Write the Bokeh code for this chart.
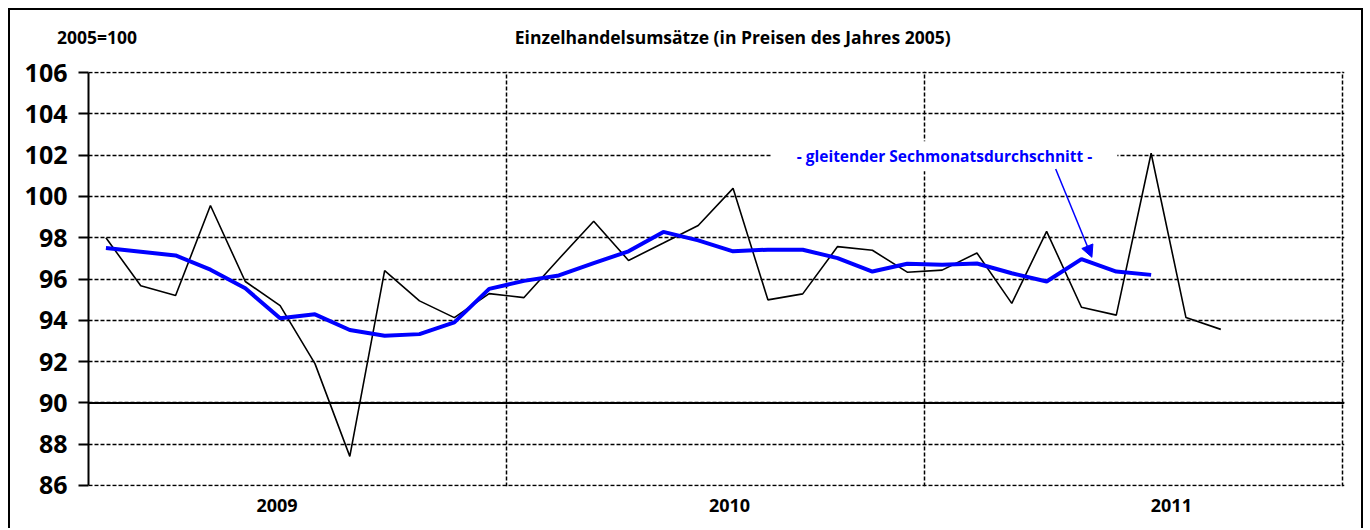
from bokeh.plotting import figure
from bokeh.models import Range1d, FixedTicker, Span, Label, Arrow, NormalHead, LinearAxis
from bokeh.embed import file_html
from bokeh.resources import INLINE

# ---- data (monthly, Jan 2009 = index 0) ----
umsatz = [98.0, 95.67, 95.2, 99.56, 95.88, 94.71, 91.9, 87.41, 96.41, 94.94, 94.13, 95.29,
          95.1, 96.97, 98.8, 96.9, 97.74, 98.59, 100.39, 94.99, 95.28, 97.57, 97.39, 96.33,
          96.43, 97.26, 94.82, 98.31, 94.63, 94.25, 102.09, 94.13, 93.56]
gleitend = [97.5, 97.32, 97.14, 96.45, 95.55, 94.1, 94.29, 93.53, 93.25, 93.33, 93.9, 95.52,
            95.91, 96.17, 96.77, 97.34, 98.28, 97.87, 97.34, 97.42, 97.42, 97.01, 96.36, 96.74,
            96.69, 96.75, 96.28, 95.88, 96.96, 96.36, 96.2]
year_labels = ["2009", "2010", "2011"]
year_label_pos = [5.41, 18.4, 31.08]
year_bounds = [12, 24, 36]
y_ticks = list(range(86, 107, 2))

title_text = "Einzelhandelsumsätze (in Preisen des Jahres 2005)"
unit_text = "2005=100"
header_texts = [unit_text, title_text]
header_pos = [0.245, 18.49]
note_text = "- gleitender Sechmonatsdurchschnitt -"

FONT = "Open Sans"

x_u = [i + 0.5 for i in range(len(umsatz))]
x_g = [i + 0.5 for i in range(len(gleitend))]

p = figure(width=1355, height=520, x_range=Range1d(0, 36.05), y_range=Range1d(85.95, 106.05),
           output_backend="svg", toolbar_location=None,
           min_border_left=78, min_border_right=21, min_border_top=61, min_border_bottom=44)
p.styles = {"border-left": "2px solid black", "border-top": "2px solid black",
            "border-right": "2px solid black", "box-sizing": "border-box",
            "margin-left": "8px", "margin-top": "8px"}
p.outline_line_color = None
p.background_fill_color = "white"
p.border_fill_color = "white"

# y axis
p.yaxis.ticker = FixedTicker(ticks=y_ticks)
p.yaxis.bounds = (86, 106)
p.yaxis.axis_line_width = 2
p.yaxis.axis_line_color = "black"
p.yaxis.major_tick_out = 10
p.yaxis.major_tick_in = 0
p.yaxis.major_tick_line_width = 2
p.yaxis.minor_tick_line_color = None
p.yaxis.major_label_standoff = 11
p.yaxis.major_label_text_font = FONT
p.yaxis.major_label_text_font_size = "25px"
p.yaxis.major_label_text_font_style = "bold"
p.yaxis.major_label_text_color = "black"

# x axis (years)
p.xaxis.ticker = FixedTicker(ticks=year_label_pos)
p.xaxis.major_label_overrides = {pos: lab for pos, lab in zip(year_label_pos, year_labels)}
p.xaxis.axis_line_color = None
p.xaxis.major_tick_line_color = None
p.xaxis.minor_tick_line_color = None
p.xaxis.major_label_standoff = 6
p.xaxis.major_label_text_font = FONT
p.xaxis.major_label_text_font_size = "18px"
p.xaxis.major_label_text_font_style = "bold"
p.xaxis.major_label_text_color = "black"

# header row (unit + title) as labels of a top axis
top = LinearAxis(ticker=FixedTicker(ticks=header_pos),
                 major_label_overrides={pos: t for pos, t in zip(header_pos, header_texts)},
                 axis_line_color=None, major_tick_line_color=None, minor_tick_line_color=None,
                 major_label_standoff=17, major_label_text_font=FONT,
                 major_label_text_font_size="17.5px", major_label_text_font_style="bold",
                 major_label_text_color="black")
p.add_layout(top, "above")

# grids
p.ygrid.ticker = FixedTicker(ticks=y_ticks)
p.ygrid.grid_line_color = "black"
p.ygrid.grid_line_dash = "4 2"
p.ygrid.grid_line_width = 1.5
p.xgrid.ticker = FixedTicker(ticks=year_bounds)
p.xgrid.grid_line_color = "black"
p.xgrid.grid_line_dash = "4 2"
p.xgrid.grid_line_width = 1.5

p.add_layout(Span(location=90, dimension="width", line_color="black", line_width=2))

p.line(x_u, umsatz, line_color="black", line_width=1.6)
p.line(x_g, gleitend, line_color="#0000FF", line_width=4)

p.add_layout(Label(x=24.57, y=101.95, text=note_text, text_font=FONT, text_font_size="15.5px",
                   text_font_style="bold", text_align="center", text_baseline="middle",
                   text_color="#0000FF", background_fill_color="white", padding=(25, 4)))
p.add_layout(Arrow(x_start=27.76, y_start=101.33, x_end=28.8, y_end=97.05,
                   line_color="#0000FF", line_width=1.5,
                   end=NormalHead(size=12, fill_color="#0000FF", line_color="#0000FF")))

open("out.html", "w").write(file_html(p, INLINE))
